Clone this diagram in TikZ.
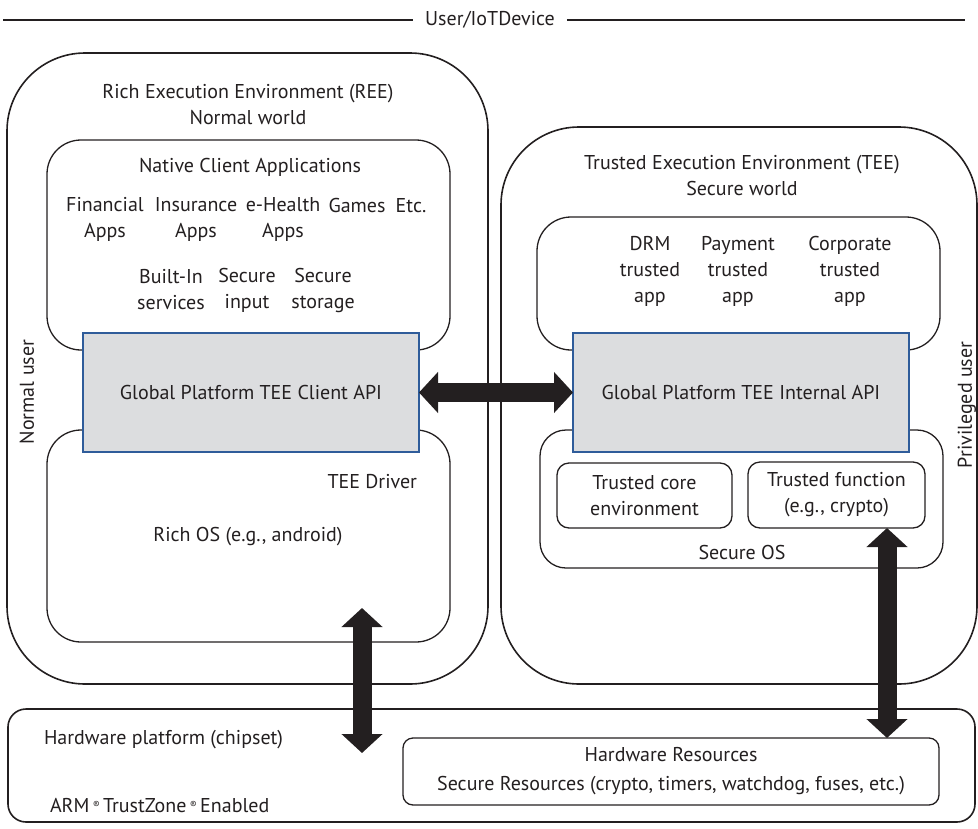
\documentclass[tikz,border=0pt]{standalone}
\usepackage{fontspec}
\setmainfont{PT Sans}
\usetikzlibrary{arrows.meta,calc}
\definecolor{ink}{HTML}{231F20}
\definecolor{apifill}{HTML}{DCDDDF}
\definecolor{apiline}{HTML}{2F5C9A}
\begin{document}
\begin{tikzpicture}[x=1pt,y=-1pt,
  font=\fontsize{20}{26}\selectfont, color=ink,
  every node/.style={inner sep=0pt, outer sep=0pt, text=ink},
  outerbox/.style={draw=ink, line width=1.6pt, rounded corners=78pt, anchor=north west},
  innerbox/.style={draw=ink, line width=1.3pt, rounded corners=34pt, anchor=north west},
  smallbox/.style={draw=ink, line width=1.3pt, rounded corners=12pt, anchor=north west},
  apibox/.style={draw=apiline, fill=apifill, line width=1.8pt, anchor=north west},
  txt/.style={align=center},
  hwtxt/.style={font=\fontsize{20}{29}\selectfont},
  fat/.style={draw=ink, line width=19pt,
    {Triangle[width=40pt,length=19pt]}-{Triangle[width=40pt,length=19pt]}}
]
\useasboundingbox (0,0) rectangle (978,828);

% header
\node (hdr) at (490,20) {User/IoTDevice};
\coordinate (hl) at (3,20);
\coordinate (hr) at (965,20);
\draw[line width=1.1pt] (hl) -- ($(hdr.west)+(-12,0)$);
\draw[line width=1.1pt] ($(hdr.east)+(12,0)$) -- (hr);

% outer environments
\node[outerbox, minimum width=481pt, minimum height=631pt] (ree) at (7,53) {};
\node[outerbox, minimum width=476pt, minimum height=557pt] (tee) at (501,127) {};

% REE inner
\node[innerbox, minimum width=403pt, minimum height=210pt] (nca) at (47,140) {};
\node[innerbox, minimum width=403pt, minimum height=212pt] (ros) at (47,430) {};
\node[apibox, minimum width=336pt, minimum height=119pt] (client) at (83,333) {};

% TEE inner
\node[innerbox, minimum width=403pt, minimum height=133pt] (tapps) at (537,217) {};
\node[innerbox, rounded corners=26pt, minimum width=403pt, minimum height=138pt] (sos) at (540,430) {};
\node[apibox, minimum width=336pt, minimum height=119pt] (internal) at (573,333) {};
\node[smallbox, minimum width=175pt, minimum height=65pt] (tcore) at (557,463) {};
\node[smallbox, minimum width=177pt, minimum height=66pt] (tfun) at (748,462) {};

% hardware
\node[draw=ink, line width=1.6pt, rounded corners=18pt, anchor=north west,
  minimum width=967pt, minimum height=113pt] (hw) at (8,709) {};
\node[smallbox, rounded corners=10pt, minimum width=536pt, minimum height=67pt] (hwres) at (403,738) {};

% texts REE
\node[txt] (reet) at (248,104) {Rich Execution Environment (REE)\\Normal world};
\node[txt] (ncat) at (250,167) {Native Client Applications};
\node[txt] (fin) at (105,219) {Financial\\Apps};
\node[txt] (ins) at (196,219) {Insurance\\Apps};
\node[txt] (ehe) at (283,219) {e-Health\\Apps};
\node[anchor=base] (gam) at (357,212) {Games};
\node[anchor=base] (etc) at (411,212) {Etc.};
\node[txt] (bis) at (171,290) {Built-In\\services};
\node[txt] (sin) at (247,290) {Secure\\input};
\node[txt] (sst) at (323,290) {Secure\\storage};
\node[txt] (clientt) at (client.center) {Global Platform TEE Client API};
\node[anchor=east] (drv) at (417,482) {TEE Driver};
\node[txt] (rost) at (248,537) {Rich OS (e.g., android)};
\node[rotate=90] (nuser) at (27,392) {Normal user};

% texts TEE
\node[txt] (teet) at (742,175) {Trusted Execution Environment (TEE)\\Secure world};
\node[txt] (drm) at (650,271) {DRM\\trusted\\app};
\node[txt] (pay) at (738,271) {Payment\\trusted\\app};
\node[txt] (corp) at (850,271) {Corporate\\trusted\\app};
\node[txt] (internalt) at (internal.center) {Global Platform TEE Internal API};
\node[txt] (tcoret) at (tcore.center) {Trusted core\\environment};
\node[txt] (tfunt) at (tfun.center) {Trusted function\\(e.g., crypto)};
\node[txt] (sost) at (742,552) {Secure OS};
\node[rotate=90] (puser) at (967,405) {Privileged user};

% texts hardware
\node[hwtxt, anchor=west] (hwp) at (44,740) {Hardware platform (chipset)};
\node[hwtxt, anchor=west] (arm) at (50,805) {ARM\,\raisebox{0.4ex}{\fontsize{10}{10}\selectfont ®}\,TrustZone\,\raisebox{0.4ex}{\fontsize{10}{10}\selectfont ®}\,Enabled};
\node[hwtxt, align=center] (hwrest) at (hwres.center) {Hardware Resources\\Secure Resources (crypto, timers, watchdog, fuses, etc.)};

% arrows
\draw[fat] (client.east) -- (internal.west);
\coordinate (la1) at (362,608);
\coordinate (la2) at (362,753);
\draw[fat] (la1) -- (la2);
\coordinate (ra1) at (887,528);
\coordinate (ra2) at (887,738);
\draw[fat] (ra1) -- (ra2);
\end{tikzpicture}
\end{document}
